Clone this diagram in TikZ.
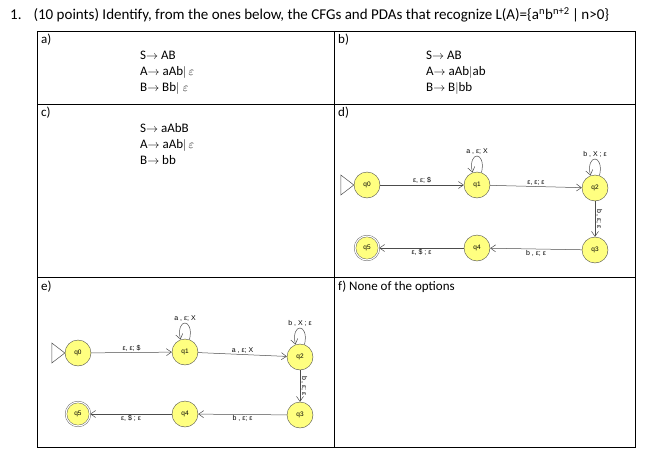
\documentclass[tikz,border=0pt]{standalone}
\usepackage{fontspec}
\setmainfont{Carlito}
\newfontfamily\pdafont{Liberation Sans}
\usetikzlibrary{arrows.meta,positioning}
\definecolor{stateyellow}{RGB}{255,255,128}
\tikzset{
	state/.style={circle, draw=black!70, fill=stateyellow, minimum size=26pt, inner sep=0pt, font=\pdafont\fontsize{6.5}{6.5}\selectfont},
	accept/.style={state, double, double distance=1.2pt, minimum size=24pt},
	trans/.style={-{Straight Barb[length=5pt,width=7pt]}, draw=black!70, line width=0.5pt},
	tlabel/.style={font=\pdafont\fontsize{7}{7}\selectfont, inner sep=1pt},
	startmark/.style={draw=black!70, line width=0.5pt},
	cell/.style={anchor=west, font=\fontsize{13}{16}\selectfont, inner sep=1pt}
}
\newcommand{\eps}{{\pdafont ε}}
\begin{document}
\begin{tikzpicture}[x=1pt,y=-1pt]
	\useasboundingbox (0,0) rectangle (670,450);
	% question
	\node[cell, font=\fontsize{15}{17}\selectfont] (title) at (9,15) {1.\hspace{12pt}(10 points) Identify, from the ones below, the CFGs and PDAs that recognize L(A)=\{a\textsuperscript{n}b\textsuperscript{n+2}\,|\,n>0\}};
	% table
	\draw[line width=0.8pt] (37,31) rectangle (635,447);
	\draw[line width=0.8pt] (334,31) -- (334,447);
	\draw[line width=0.8pt] (37,104) -- (635,104);
	\draw[line width=0.8pt] (37,277) -- (635,277);
	\node[cell] (la) at (40,40) {a)};
	\node[cell] (lb) at (337,40) {b)};
	\node[cell] (lc) at (40,113) {c)};
	\node[cell] (ld) at (337,113) {d)};
	\node[cell] (le) at (40,287) {e)};
	\node[cell] (lf) at (337,287) {f) None of the options};
	% grammars
	\node[cell, anchor=north west, align=left] (ga) at (139,50) {S$\rightarrow$ AB\\A$\rightarrow$ aAb$|\,\varepsilon$\\B$\rightarrow$ Bb$|\;\varepsilon$};
	\node[cell, anchor=north west, align=left] (gb) at (425,50) {S$\rightarrow$ AB\\A$\rightarrow$ aAb$|$ab\\B$\rightarrow$ B$|$bb};
	\node[cell, anchor=north west, align=left] (gc) at (139,122) {S$\rightarrow$ aAbB\\A$\rightarrow$ aAb$|\,\varepsilon$\\B$\rightarrow$ bb};
	% PDA d
	\node[state] (d0) at (367,185) {q0};
	\node[state] (d1) at (477,185) {q1};
	\node[state] (d2) at (595,188) {q2};
	\node[state] (d3) at (595,250) {q3};
	\node[state] (d4) at (477,248) {q4};
	\node[accept] (d5) at (367,248) {q5};
	\draw[startmark] (d0.west) -- ++(-13,-10) -- ++(0,20) -- cycle;
	\draw[trans] (d0) -- node[tlabel, above] {\eps , \eps ; \$} (d1);
	\draw[trans] (d1) -- node[tlabel, above] {\eps , \eps ; \eps} (d2);
	\draw[trans] (d2) -- node[tlabel, rotate=-90, anchor=south] {b , \eps ; \eps} (d3);
	\draw[trans] (d3) -- node[tlabel, below] {b , \eps ; \eps} (d4);
	\draw[trans] (d4) -- node[tlabel, below] {\eps , \$ ; \eps} (d5);
	\draw[trans] (d1.70) .. controls +(5,-22) and +(-5,-22) .. node[tlabel, above] {a , \eps ; X} (d1.110);
	\draw[trans] (d2.70) .. controls +(5,-22) and +(-5,-22) .. node[tlabel, above] {b , X ; \eps} (d2.110);
	% PDA e
	\node[state] (e0) at (78,353) {q0};
	\node[state] (e1) at (185,352) {q1};
	\node[state] (e2) at (300,357) {q2};
	\node[state] (e3) at (300,415) {q3};
	\node[state] (e4) at (185,414) {q4};
	\node[accept] (e5) at (78,414) {q5};
	\draw[startmark] (e0.west) -- ++(-13,-10) -- ++(0,20) -- cycle;
	\draw[trans] (e0) -- node[tlabel, above] {\eps , \eps ; \$} (e1);
	\draw[trans] (e1) -- node[tlabel, above] {a , \eps ; X} (e2);
	\draw[trans] (e2) -- node[tlabel, rotate=-90, anchor=south] {b , \eps ; \eps} (e3);
	\draw[trans] (e3) -- node[tlabel, below] {b , \eps ; \eps} (e4);
	\draw[trans] (e4) -- node[tlabel, below] {\eps , \$ ; \eps} (e5);
	\draw[trans] (e1.70) .. controls +(5,-22) and +(-5,-22) .. node[tlabel, above] {a , \eps ; X} (e1.110);
	\draw[trans] (e2.70) .. controls +(5,-22) and +(-5,-22) .. node[tlabel, above] {b , X ; \eps} (e2.110);
\end{tikzpicture}
\end{document}
